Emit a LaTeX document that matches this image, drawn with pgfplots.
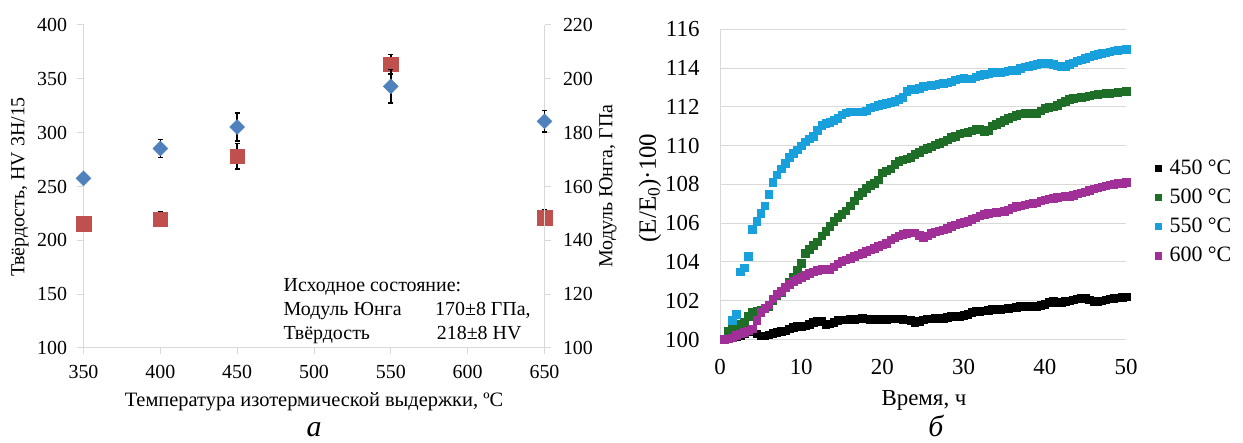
\documentclass[border=0pt]{standalone}
\usepackage{fontspec}
\setmainfont{Liberation Serif}
\usepackage{pgfplots}
\usepackage{pgfplotstable}
\pgfplotsset{compat=1.18}

\definecolor{hvred}{HTML}{C0504D}
\definecolor{eblue}{HTML}{4F81BD}
\definecolor{c500}{HTML}{1E6E28}
\definecolor{c550}{HTML}{17A0DB}
\definecolor{c600}{HTML}{A02F98}
\definecolor{axgray}{HTML}{D9D9D9}

% hardness (HV) and Young's modulus (GPa) vs temperature
\pgfplotstableread{
T   HV    HVerr E     Eerr
350 215.5 4     163.0 1.0
400 219.5 6.7   174.1 3.3
450 278   12    182.1 5.2
550 363.6 9     197.2 6.2
650 221   7     184.2 4.0
}\leftdata

% (E/E0)*100 vs time, h
\pgfplotstableread{
t    a450   a500   a550   a600
0.5  100.00 100.00 100.00 100.00
1.0  100.05 100.45 nan    100.05
1.5  100.10 100.55 101.00 100.10
2.0  100.15 100.70 101.30 100.22
2.5  100.20 100.78 103.50 100.30
3.0  100.30 100.90 103.70 100.38
3.5  100.40 101.20 104.30 100.45
4.0  100.45 101.40 105.70 100.55
4.5  100.30 101.46 106.10 101.00
5.0  100.20 101.50 106.50 101.40
5.5  100.20 101.60 106.90 101.60
6.0  100.25 101.70 107.50 101.80
6.5  100.32 102.00 108.10 102.10
7.0  100.38 102.30 108.50 102.33
7.5  100.42 102.45 108.80 102.50
8.0  100.45 102.70 109.10 102.70
8.5  100.55 102.95 109.40 102.85
9.0  100.62 103.20 109.60 103.00
9.5  100.68 103.60 109.80 103.10
10.0 100.70 103.95 110.00 103.22
10.5 100.72 104.46 110.20 103.33
11.0 100.80 104.65 110.35 103.42
11.5 100.88 104.85 110.50 103.50
12.0 100.95 105.05 110.80 103.58
12.5 100.95 105.35 111.05 103.62
13.0 100.80 105.60 111.15 103.62
13.5 100.82 105.85 111.20 103.62
14.0 100.90 106.10 111.30 103.75
14.5 101.00 106.30 111.42 103.90
15.0 101.03 106.45 111.60 104.05
15.5 101.03 106.65 111.70 104.12
16.0 101.05 106.90 111.75 104.20
16.5 101.06 107.15 111.76 104.30
17.0 101.08 107.45 111.76 104.38
17.5 101.10 107.60 111.76 104.46
18.0 101.08 107.80 111.80 104.55
18.5 101.06 107.95 111.95 104.63
19.0 101.04 108.05 112.00 104.72
19.5 101.03 108.25 112.10 104.80
20.0 101.05 108.60 112.15 104.90
20.5 101.06 108.70 112.20 104.98
21.0 101.07 108.80 112.25 105.15
21.5 101.08 109.05 112.30 105.25
22.0 101.07 109.20 112.40 105.35
22.5 101.06 109.27 112.50 105.42
23.0 101.03 109.33 112.80 105.48
23.5 100.98 109.40 112.90 105.50
24.0 100.86 109.55 112.90 105.50
24.5 100.95 109.65 112.95 105.38
25.0 101.03 109.78 113.05 105.25
25.5 101.07 109.88 113.10 105.35
26.0 101.08 109.95 113.12 105.48
26.5 101.10 110.05 113.15 105.56
27.0 101.10 110.12 113.20 105.62
27.5 101.10 110.20 113.22 105.67
28.0 101.15 110.30 113.25 105.75
28.5 101.20 110.42 113.30 105.84
29.0 101.20 110.50 113.40 105.92
29.5 101.20 110.62 113.45 106.00
30.0 101.25 110.66 113.47 106.05
30.5 101.30 110.70 113.45 106.10
31.0 101.40 110.76 113.45 106.20
31.5 101.46 110.88 113.55 106.28
32.0 101.46 110.85 113.62 106.38
32.5 101.48 110.73 113.68 106.45
33.0 101.52 110.80 113.72 106.50
33.5 101.55 111.02 113.80 106.53
34.0 101.55 111.10 113.80 106.58
34.5 101.56 111.20 113.80 106.60
35.0 101.58 111.30 113.82 106.63
35.5 101.60 111.40 113.86 106.70
36.0 101.63 111.50 113.88 106.80
36.5 101.67 111.58 113.90 106.87
37.0 101.72 111.64 113.98 106.90
37.5 101.72 111.67 114.07 106.95
38.0 101.72 111.67 114.10 107.00
38.5 101.72 111.66 114.16 107.02
39.0 101.72 111.67 114.20 107.05
39.5 101.76 111.80 114.24 107.15
40.0 101.82 111.93 114.26 107.22
40.5 101.92 111.98 114.28 107.27
41.0 101.97 112.00 114.20 107.30
41.5 101.92 112.10 114.12 107.33
42.0 101.92 112.22 114.08 107.37
42.5 101.96 112.30 114.10 107.38
43.0 102.00 112.38 114.20 107.38
43.5 102.06 112.45 114.28 107.45
44.0 102.10 112.48 114.38 107.53
44.5 102.15 112.50 114.44 107.58
45.0 102.12 112.53 114.50 107.63
45.5 102.06 112.57 114.58 107.70
46.0 101.98 112.62 114.66 107.77
46.5 101.97 112.65 114.72 107.82
47.0 102.00 112.67 114.76 107.88
47.5 102.06 112.69 114.80 107.94
48.0 102.10 112.70 114.85 107.98
48.5 102.14 112.73 114.90 108.02
49.0 102.16 112.76 114.93 108.05
49.5 102.18 112.78 114.95 108.07
50.0 102.20 112.80 114.97 108.10
}\timedata

\begin{document}
\begin{tikzpicture}
\pgfplotsset{
  leftgeom/.style={at={(83.5bp,95bp)}, anchor=south west, scale only axis,
    width=461bp, height=323bp, xmin=350, xmax=650,
    axis line style={draw=axgray, line width=1bp},
    tick style={draw=axgray, line width=1bp},
    tick align=outside, major tick length=6bp,
    tick label style={font=\fontsize{20}{24}\selectfont},
    /pgf/number format/assume math mode=true, clip=false},
  ebar/.style={error bars/.cd, y dir=both, y explicit,
    error bar style={black, line width=1.6bp},
    error mark options={rotate=90, black, line width=1.6bp, mark size=2.5bp}},
}
% hardness, left axis
\begin{axis}[leftgeom, ymin=100, ymax=400,
  xtick={350,400,...,650}, ytick={100,150,...,400},
  xticklabel style={yshift=-8bp}, yticklabel style={xshift=-7bp},
  axis x line*=bottom, axis y line*=left]
\addplot[only marks, mark=square*, mark size=7.3bp,
  mark options={draw=hvred, fill=hvred}, ebar]
  table[x=T, y=HV, y error=HVerr]{\leftdata};
\end{axis}
% Young's modulus, right axis
\begin{axis}[leftgeom, ymin=100, ymax=220, ytick={100,120,...,220},
  yticklabel style={xshift=9bp},
  axis x line=none, axis y line*=right]
\addplot[only marks, mark=square*, mark size=5.3bp,
  mark options={draw=eblue, fill=eblue, rotate=45}, ebar]
  table[x=T, y=E, y error=Eerr]{\leftdata};
\end{axis}

% modulus change with time
\begin{axis}[at={(720bp,103.5bp)}, anchor=south west, scale only axis,
  width=406bp, height=310.2bp,
  xmin=0, xmax=50, ymin=100, ymax=116,
  xtick={0,10,...,50}, ytick={100,102,...,116},
  axis x line*=bottom, axis y line*=left,
  axis line style={draw=axgray, line width=1bp},
  major tick length=0pt, ymajorgrids,
  grid style={draw=axgray, line width=1bp},
  tick label style={font=\fontsize{23}{27}\selectfont},
  xticklabel style={yshift=-16bp}, yticklabel style={xshift=-17bp},
  /pgf/number format/assume math mode=true, clip=false,
  legend style={at={(1.071,0.585)}, anchor=north west, draw=none, fill=none,
    font=\fontsize{22}{26}\selectfont, inner sep=0pt, row sep=9bp},
  legend cell align=left,
  /tikz/every odd column/.append style={column sep=6bp},
  legend image code/.code={\draw[#1, mark size=3.3bp] plot coordinates {(0bp,0bp)};},
  every axis plot/.append style={only marks, mark=square*, mark size=3.8bp},
]
\addplot[mark options={draw=black, fill=black}] table[x=t, y=a450]{\timedata};
\addlegendentry{450 °C}
\addplot[mark options={draw=c500, fill=c500}] table[x=t, y=a500]{\timedata};
\addlegendentry{500 °C}
\addplot[mark options={draw=c550, fill=c550}] table[x=t, y=a550]{\timedata};
\addlegendentry{550 °C}
\addplot[mark options={draw=c600, fill=c600}] table[x=t, y=a600]{\timedata};
\addlegendentry{600 °C}
\end{axis}

% labels
\begin{scope}[every node/.style={inner sep=0pt}]
\node[rotate=90, font=\fontsize{20}{24}\selectfont] at (20bp,256bp) {Твёрдость, HV 3H/15};
\node[rotate=90, font=\fontsize{20}{24}\selectfont] at (608bp,257bp) {Модуль Юнга, ГПа};
\node[anchor=base, font=\fontsize{20.5}{24}\selectfont] at (314bp,37bp) {Температура изотермической выдержки, ºC};
\node[anchor=base west, font=\fontsize{20}{24}\selectfont] at (283.5bp,151.3bp) {Исходное состояние:};
\node[anchor=base west, font=\fontsize{20}{24}\selectfont] at (283.5bp,127.3bp) {Модуль Юнга};
\node[anchor=base west, font=\fontsize{20}{24}\selectfont] at (435bp,127.3bp) {170±8 ГПа,};
\node[anchor=base west, font=\fontsize{20}{24}\selectfont] at (283.5bp,103.3bp) {Твёрдость};
\node[anchor=base west, font=\fontsize{20}{24}\selectfont] at (436.7bp,103.3bp) {218±8 HV};
\node[rotate=90, font=\fontsize{25}{29}\selectfont] at (650bp,255bp) {(E/E\textsubscript{0})·100};
\node[anchor=base, font=\fontsize{23}{27}\selectfont] at (924bp,38bp) {Время, ч};
\node[anchor=base, font=\fontsize{30}{34}\selectfont\itshape] at (314bp,7bp) {а};
\node[anchor=base, font=\fontsize{30}{34}\selectfont\itshape] at (936bp,7bp) {б};
\end{scope}
\pgfresetboundingbox
\useasboundingbox (0,0) rectangle (1243bp,443bp);
\end{tikzpicture}
\end{document}
